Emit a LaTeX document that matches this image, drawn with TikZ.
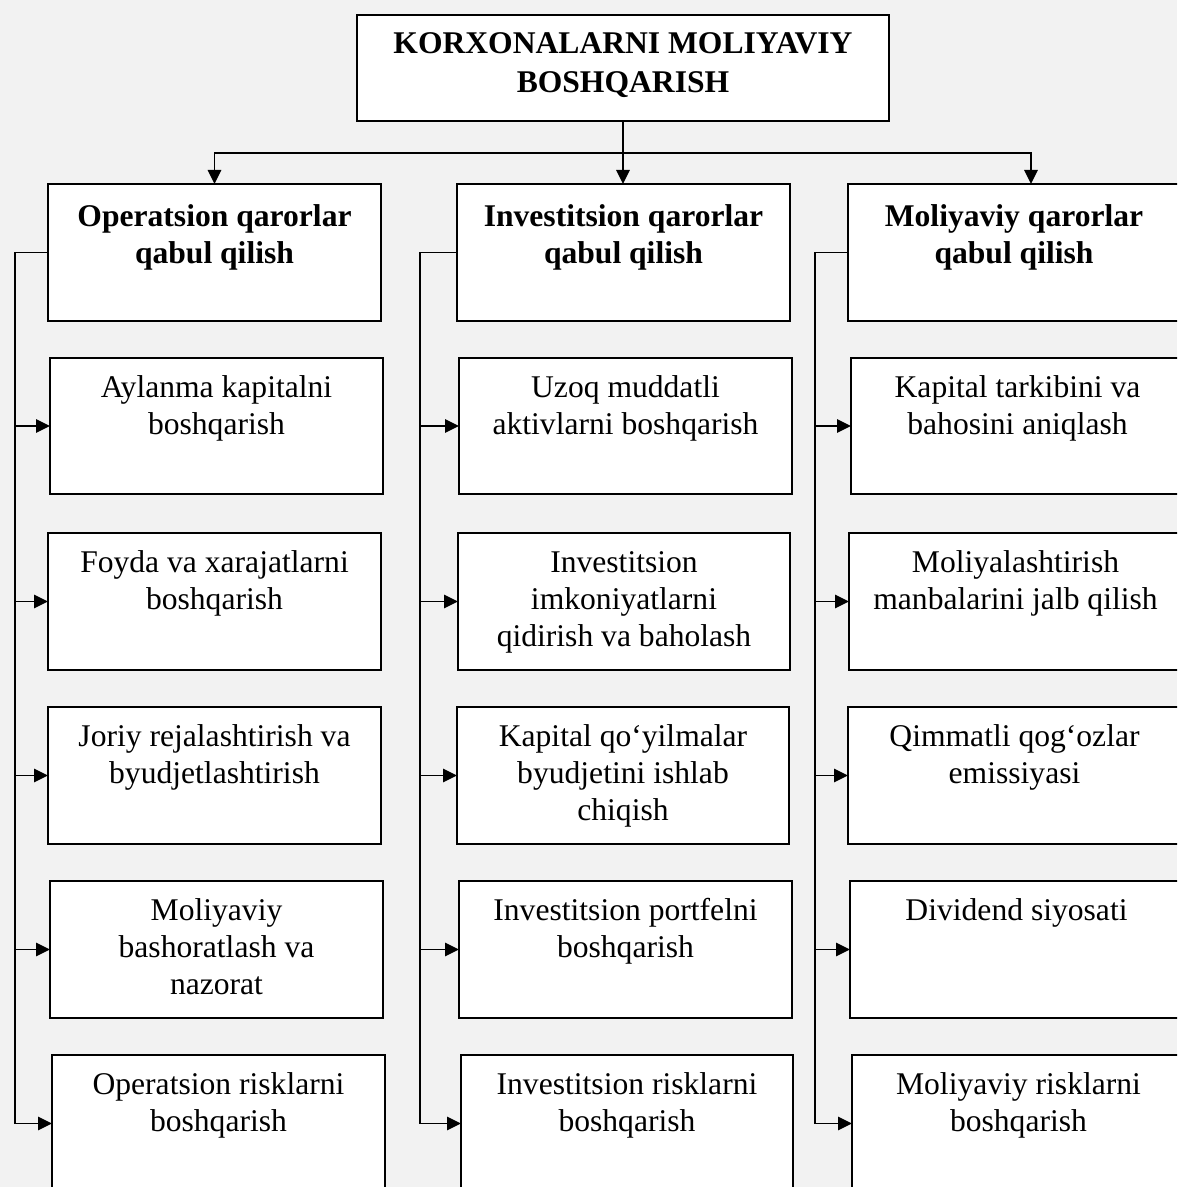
\documentclass[tikz,border=0pt]{standalone}
\usepackage{fontspec}
\setmainfont{Liberation Serif}
\usetikzlibrary{arrows.meta,fit}
\definecolor{pagebg}{RGB}{242,242,242}

% a framed cell: name, text style, corners (x1,y1) (x2,y2), text
\newcommand\cellbox[7]{%
  \node[box,fit={(#3,#4) (#5,#6)}] (#1) {};
  \node[#2,anchor=north] (#1-t) at (#1.north) {#7};}

\begin{document}
\begin{tikzpicture}[x=0.75pt,y=-0.75pt,
  box/.style={draw=black,line width=1.5pt,fill=white,inner sep=0pt,outer sep=0pt},
  txt/.style={align=center,inner sep=0pt,yshift=-10.2pt,
              font=\fontsize{23.7}{27.75}\selectfont},
  head/.style={align=center,inner sep=0pt,yshift=-12.1pt,
              font=\fontsize{23.7}{27.75}\selectfont\bfseries},
  title/.style={align=center,inner sep=0pt,yshift=-8pt,
              font=\fontsize{23.7}{29.25}\selectfont\bfseries},
  wire/.style={draw=black,line width=1.4pt},
  arr/.style={wire,-{Triangle[length=10.5pt,width=10pt]}}]

\fill[pagebg] (0,0) rectangle (1177,1187);
\useasboundingbox (0,0) rectangle (1177,1187);
\clip (0,0) rectangle (1177,1187);

% top level
\cellbox{T}{title}{357}{15}{889}{121}{\strut KORXONALARNI MOLIYAVIY\\\strut BOSHQARISH}

% decision groups
\cellbox{H1}{head}{48}{184}{381}{321}{\strut Operatsion qarorlar\\\strut qabul qilish}
\cellbox{H2}{head}{457}{184}{790}{321}{\strut Investitsion qarorlar\\\strut qabul qilish}
\cellbox{H3}{head}{848}{184}{1180}{321}{\strut Moliyaviy qarorlar\\\strut qabul qilish}

% operating decisions
\cellbox{L1}{txt}{50}{358}{383}{494}{\strut Aylanma kapitalni\\\strut boshqarish}
\cellbox{L2}{txt}{48}{533}{381}{670}{\strut Foyda va xarajatlarni\\\strut boshqarish}
\cellbox{L3}{txt}{48}{707}{381}{844}{\strut Joriy rejalashtirish va\\\strut byudjetlashtirish}
\cellbox{L4}{txt}{50}{881}{383}{1018}{\strut Moliyaviy\\\strut bashoratlash va\\\strut nazorat}
\cellbox{L5}{txt}{52}{1055}{385}{1192}{\strut Operatsion risklarni\\\strut boshqarish}

% investment decisions
\cellbox{M1}{txt}{459}{358}{792}{494}{\strut Uzoq muddatli\\\strut aktivlarni boshqarish}
\cellbox{M2}{txt}{458}{533}{790}{670}{\strut Investitsion\\\strut imkoniyatlarni\\\strut qidirish va baholash}
\cellbox{M3}{txt}{457}{707}{789}{844}{\strut Kapital qo‘yilmalar\\\strut byudjetini ishlab\\\strut chiqish}
\cellbox{M4}{txt}{459}{881}{792}{1018}{\strut Investitsion portfelni\\\strut boshqarish}
\cellbox{M5}{txt}{461}{1055}{793}{1192}{\strut Investitsion risklarni\\\strut boshqarish}

% financing decisions
\cellbox{R1}{txt}{851}{358}{1184}{494}{\strut Kapital tarkibini va\\\strut bahosini aniqlash}
\cellbox{R2}{txt}{849}{533}{1182}{670}{\strut Moliyalashtirish\\\strut manbalarini jalb qilish}
\cellbox{R3}{txt}{848}{707}{1181}{844}{\strut Qimmatli qog‘ozlar\\\strut emissiyasi}
\cellbox{R4}{txt}{850}{881}{1183}{1018}{\strut Dividend siyosati}
\cellbox{R5}{txt}{852}{1055}{1185}{1192}{\strut Moliyaviy risklarni\\\strut boshqarish}

% distribution from the top box
\coordinate (J) at (623,153);
\coordinate (H3in) at (1031,184);
\draw[arr] (T.south) -- (T.south |- H2.north);
\draw[arr] (J) -| (H1.north);
\draw[arr] (J) -| (H3in);

% side buses
\coordinate (bL) at (15,0);
\coordinate (bM) at (420,0);
\coordinate (bR) at (815,0);
\draw[arr] (H1.west) -| (bL |- L5.west) -- (L5.west);
\draw[arr] (H2.west) -| (bM |- M5.west) -- (M5.west);
\draw[arr] (H3.west) -| (bR |- R5.west) -- (R5.west);
\foreach \r in {1,...,4}{
  \draw[arr] (bL |- L\r.west) -- (L\r.west);
  \draw[arr] (bM |- M\r.west) -- (M\r.west);
  \draw[arr] (bR |- R\r.west) -- (R\r.west);
}
\end{tikzpicture}
\end{document}
